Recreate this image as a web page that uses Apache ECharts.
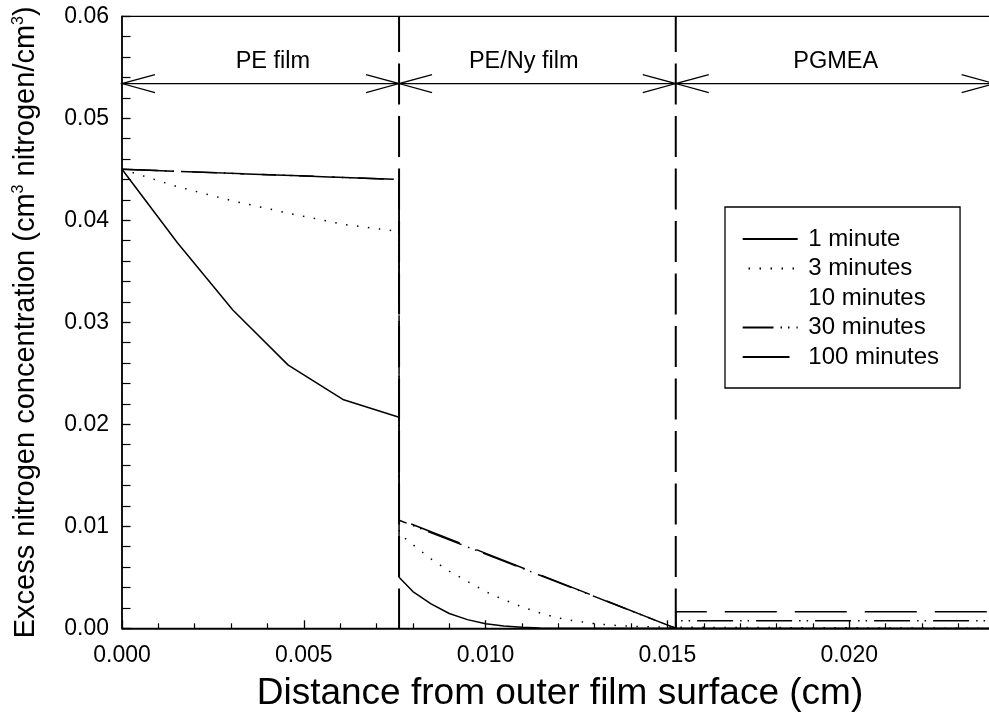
<!DOCTYPE html>
<html>
<head>
<meta charset="utf-8">
<script src="https://cdn.jsdelivr.net/npm/echarts@6/dist/echarts.min.js"></script>
<style>html,body{margin:0;padding:0;background:#fff;}#c{width:989px;height:725px;}</style>
</head>
<body>
<div id="c"></div>
<script>
// ---------- data ----------
const SERIES_NAMES = ['1 minute', '3 minutes', '10 minutes', '30 minutes', '100 minutes'];

const MIN1_X = [0, 0.001524, 0.003048, 0.004572, 0.006096, 0.00762, 0.00762, 0.0080, 0.0085, 0.0090, 0.0095, 0.0100, 0.0105, 0.0110, 0.0115, 0.0120, 0.0125, 0.01523, 0.024];
const MIN1_Y = [0.0450, 0.0378, 0.0312, 0.0258, 0.0224, 0.0207, 0.0050, 0.0036, 0.0024, 0.00145, 0.00085, 0.00045, 0.00022, 0.0001, 0.00004, 0.00001, 0, 0, 0];

const MIN3_X = [0, 0.001524, 0.003048, 0.004572, 0.006096, 0.00762, 0.00762, 0.0080, 0.0085, 0.0090, 0.0095, 0.0100, 0.0105, 0.0110, 0.0115, 0.0120, 0.0125, 0.0130, 0.0135, 0.0140, 0.0145, 0.01523, 0.01523, 0.024];
const MIN3_Y = [0.0450, 0.0433, 0.0419, 0.0407, 0.0396, 0.0389, 0.0093, 0.0082, 0.0068, 0.0056, 0.0046, 0.0036, 0.0028, 0.0021, 0.0015, 0.0010, 0.0007, 0.00045, 0.0003, 0.0002, 0.00015, 0.0001, 0, 0];

const MIN10_X = [0, 0.00762, 0.00762, 0.01523, 0.01523, 0.024];
const MIN10_Y = [0.0450, 0.0438, 0.0105, 0, 0.0002, 0.0002];

const MIN30_X = [0, 0.00762, 0.00762, 0.01523, 0.01523, 0.024];
const MIN30_Y = [0.0450, 0.0440, 0.0106, 0, 0.00075, 0.00075];

const MIN100_X = [0, 0.00762, 0.00762, 0.01523, 0.01523, 0.024];
const MIN100_Y = [0.0450, 0.0440, 0.0107, 0, 0.00163, 0.00163];

const REGION_BOUNDS = [0, 0.00762, 0.01523, 0.024];
const REGION_NAMES = ['PE film', 'PE/Ny film', 'PGMEA'];
const REGION_LABEL_X = [0.00415, 0.01105, 0.01963];
const ARROW_LEVEL = 0.0534;
const LABEL_LEVEL = 0.0556;

const X_MIN = 0, X_MAX = 0.025, X_INTERVAL = 0.005;
const Y_MIN = 0, Y_MAX = 0.06, Y_INTERVAL = 0.01;

// ---------- chart ----------
const FONT = '"Liberation Sans", Arial, Helvetica, sans-serif';
const pairs = (xs, ys) => xs.map((x, i) => [x, ys[i]]);

const regionData = REGION_NAMES.map((n, i) => [REGION_BOUNDS[i], REGION_BOUNDS[i + 1], REGION_LABEL_X[i], Y_MAX]);

function renderRegion(params, api) {
  const s = api.value(0), e = api.value(1), lx = api.value(2);
  const idx = params.dataIndex;
  const p0 = api.coord([s, ARROW_LEVEL]);
  const p1 = api.coord([e, ARROW_LEVEL]);
  const lp = api.coord([lx, LABEL_LEVEL]);
  const L = 33, H = 9;
  const st = { stroke: '#000', lineWidth: 1.2, fill: null };
  const children = [
    { type: 'polyline', shape: { points: [p0, p1] }, style: st },
    { type: 'polyline', shape: { points: [[p0[0] + L, p0[1] - H], p0, [p0[0] + L, p0[1] + H]] }, style: st },
    { type: 'polyline', shape: { points: [[p1[0] - L, p1[1] - H], p1, [p1[0] - L, p1[1] + H]] }, style: st },
    { type: 'text', style: { text: REGION_NAMES[idx], x: lp[0], y: lp[1], fill: '#000', font: '23.5px ' + FONT, align: 'center', verticalAlign: 'middle' } }
  ];
  if (idx > 0) {
    const t = api.coord([s, Y_MAX]);
    const b = api.coord([s, Y_MIN]);
    children.push({ type: 'polyline', shape: { points: [t, b] }, style: { stroke: '#000', lineWidth: 2, fill: null, lineDash: [41, 11.5], lineDashOffset: 5.2 } });
  }
  return { type: 'group', children };
}

function lineSeries(name, xs, ys, lineStyle, z) {
  return {
    type: 'line', name, data: pairs(xs, ys), symbol: 'none', showSymbol: false,
    lineStyle: Object.assign({ color: '#000', width: 1.5 }, lineStyle),
    itemStyle: { color: '#000' }, z: z, animation: false, silent: true
  };
}

const chart = echarts.init(document.getElementById('c'), null, { renderer: 'canvas' });
chart.setOption({
  backgroundColor: '#fff',
  animation: false,
  grid: { left: 122, top: 16.3, width: 909, height: 612, show: true, borderColor: '#000', borderWidth: 1.3, backgroundColor: '#fff', containLabel: false, outerBoundsMode: 'none' },
  xAxis: {
    type: 'value', min: X_MIN, max: X_MAX, interval: X_INTERVAL,
    axisLine: { show: true, onZero: false, lineStyle: { color: '#000', width: 1.5 } },
    axisTick: { show: true, inside: true, length: 8, lineStyle: { color: '#000', width: 1.3 } },
    minorTick: { show: true, splitNumber: 5, length: 5, lineStyle: { color: '#000', width: 1.2 } },
    splitLine: { show: false }, minorSplitLine: { show: false },
    axisLabel: { show: true, showMaxLabel: false, formatter: v => v.toFixed(3), fontSize: 23, color: '#000', fontFamily: FONT, margin: 16 },
    name: 'Distance from outer film surface (cm)', nameLocation: 'middle', nameGap: 47,
    nameTextStyle: { fontSize: 37, color: '#000', fontFamily: FONT, padding: [0, 33, 0, 0] }
  },
  yAxis: {
    type: 'value', min: Y_MIN, max: Y_MAX, interval: Y_INTERVAL,
    axisLine: { show: true, onZero: false, lineStyle: { color: '#000', width: 1.5 } },
    axisTick: { show: true, inside: true, length: 8.5, lineStyle: { color: '#000', width: 1.3 } },
    minorTick: { show: true, splitNumber: 5, length: 8.5, lineStyle: { color: '#000', width: 1.2 } },
    splitLine: { show: false }, minorSplitLine: { show: false },
    axisLabel: { show: true, formatter: v => v.toFixed(2), fontSize: 23, color: '#000', fontFamily: FONT, margin: 13 },
    name: 'Excess nitrogen concentration (cm{sup|3} nitrogen/cm{sup|3})',
    nameLocation: 'middle', nameGap: 82, nameRotate: 90,
    nameTextStyle: { fontSize: 29, lineHeight: 29, color: '#000', fontFamily: FONT,
      rich: { sup: { fontSize: 16, lineHeight: 8, verticalAlign: 'top', color: '#000', fontFamily: FONT } } }
  },
  legend: {
    data: SERIES_NAMES, orient: 'vertical', left: 725, top: 207,
    itemWidth: 55, itemHeight: 14, itemGap: 5.5,
    padding: [20, 21, 19, 16.7], borderColor: '#000', borderWidth: 1.3, backgroundColor: '#fff',
    selectedMode: false,
    itemStyle: { opacity: 0, borderWidth: 0 },
    textStyle: { fontSize: 24, lineHeight: 24, color: '#000', fontFamily: FONT, padding: [0, 0, 0, 5.6] }
  },
  series: [
    { type: 'custom', name: 'regions', data: regionData, renderItem: renderRegion, z: 1, silent: true, animation: false, encode: { x: [0, 1], y: 3 } },
    lineSeries(SERIES_NAMES[0], MIN1_X, MIN1_Y, { type: 'solid' }, 3),
    lineSeries(SERIES_NAMES[1], MIN3_X, MIN3_Y, { type: [1.5, 9.5] }, 3),
    lineSeries(SERIES_NAMES[2], MIN10_X, MIN10_Y, { type: 'solid', opacity: 0 }, 3),
    lineSeries(SERIES_NAMES[3], MIN30_X, MIN30_Y, { type: [36, 7, 1.5, 6, 1.5, 7] }, 3),
    lineSeries(SERIES_NAMES[4], MIN100_X, MIN100_Y, { type: [52, 18] }, 3)
  ]
});
</script>
</body>
</html>
